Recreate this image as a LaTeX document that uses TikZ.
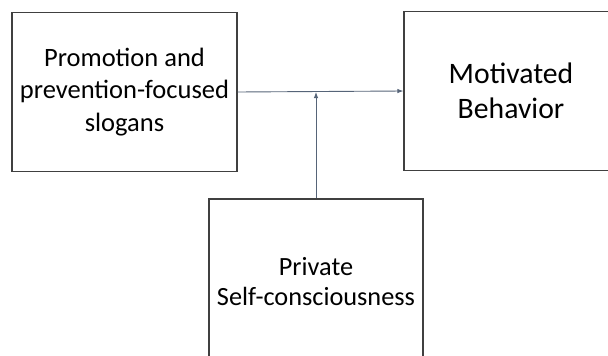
\documentclass[tikz,border=0pt]{standalone}
\usepackage{fontspec}
\setmainfont{Carlito}
\usetikzlibrary{arrows.meta}
\definecolor{boxline}{RGB}{64,64,64}
\definecolor{arrowline}{RGB}{86,100,120}
\begin{document}
\begin{tikzpicture}[x=1pt,y=-1pt,
  box/.style={draw=boxline,line width=1.2pt,align=center,inner sep=0pt,text=black},
  conn/.style={draw=arrowline,line width=0.9pt,-{Latex[length=6pt,width=4.5pt]}}]
\useasboundingbox (0,0) rectangle (608,356);
\clip (0,0) rectangle (608,356);
\node[box,minimum width=225pt,minimum height=159pt,font=\fontsize{26.5}{32.5}\selectfont] (promo) at (124.5,92) {Promotion and\\prevention-focused\\slogans};
\node[box,minimum width=214pt,minimum height=159pt,font=\fontsize{29.7}{35}\selectfont] (motiv) at (511,91) {Motivated\\Behavior};
\node[box,minimum width=214pt,minimum height=166pt,font=\fontsize{26.3}{30}\selectfont] (priv) at (316,282) {Private\\Self-consciousness};
\coordinate (join) at (priv.north |- promo.east);
\draw[conn] (promo.east) -- (motiv.west);
\draw[conn] (priv.north) -- (join);
\end{tikzpicture}
\end{document}
